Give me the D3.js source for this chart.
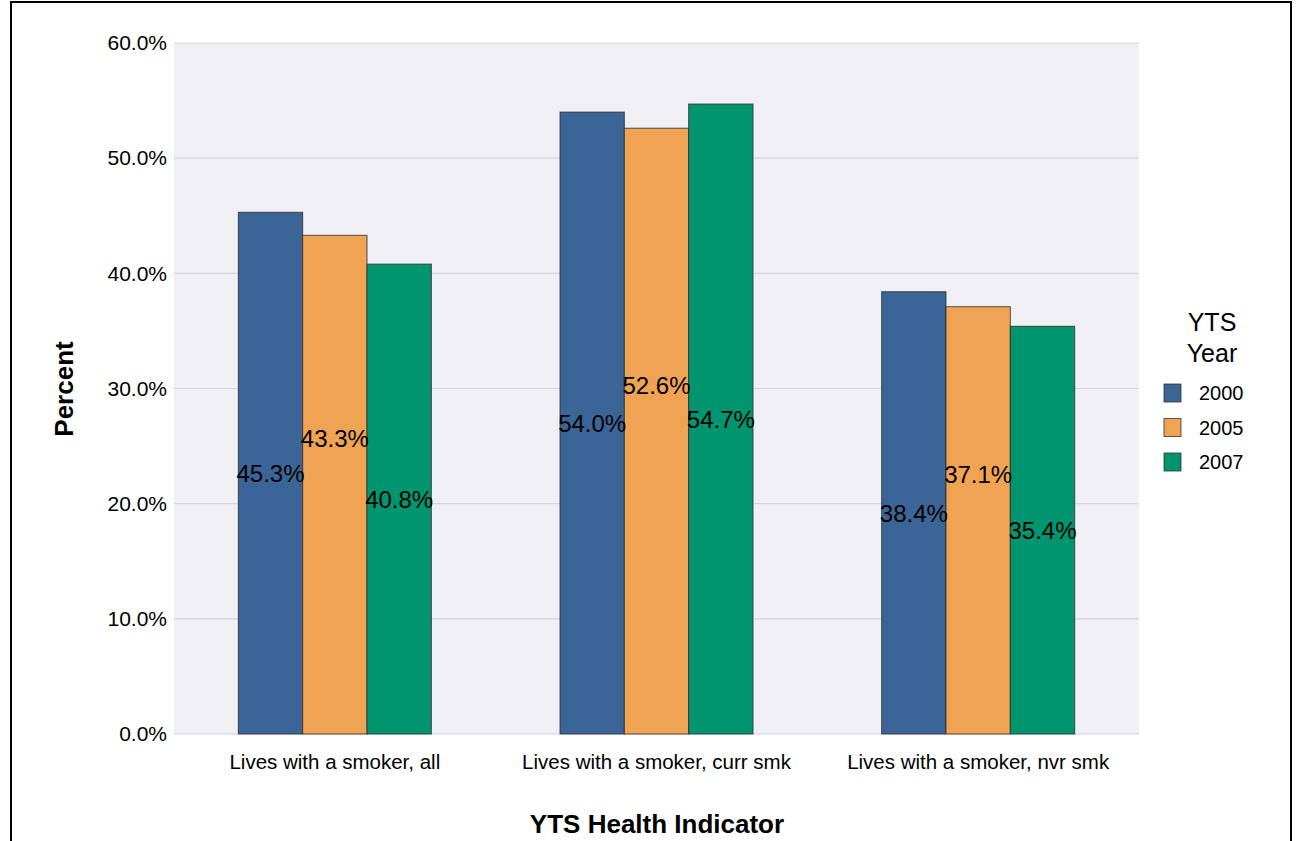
<!DOCTYPE html>
<html>
<head>
<meta charset="utf-8">
<script src="https://cdn.jsdelivr.net/npm/d3@7"></script>
<style>
  html, body { margin: 0; padding: 0; background: #fff; }
  svg { display: block; font-family: "Liberation Sans", Arial, "DejaVu Sans", sans-serif; }
</style>
</head>
<body>
<svg id="chart" width="1298" height="841"></svg>
<script>
const categories = ["Lives with a smoker, all", "Lives with a smoker, curr smk", "Lives with a smoker, nvr smk"];
const years = ["2000", "2005", "2007"];
const values2000 = [45.3, 54.0, 38.4];
const values2005 = [43.3, 52.6, 37.1];
const values2007 = [40.8, 54.7, 35.4];
const yTicks = [0, 10, 20, 30, 40, 50, 60];
const colors = ["#3a6596", "#f0a453", "#00956f"];

const seriesValues = [values2000, values2005, values2007];
const labelShift = [0, -46, 0];

const svg = d3.select("#chart");
const plot = { left: 174, right: 1139, top: 43, bottom: 734 };

// outer frame
svg.append("rect")
  .attr("x", 11).attr("y", 2).attr("width", 1280).attr("height", 900)
  .attr("fill", "none").attr("stroke", "#000").attr("stroke-width", 2);

const x0 = d3.scaleBand().domain(categories).range([plot.left, plot.right])
  .paddingInner(0.4).paddingOuter(0.2);
const x1 = d3.scaleBand().domain(years).range([0, x0.bandwidth()]).padding(0);
const y = d3.scaleLinear().domain([0, 60]).range([plot.bottom, plot.top]);
const color = d3.scaleOrdinal().domain(years).range(colors);

// plot background
svg.append("rect")
  .attr("x", plot.left).attr("y", plot.top)
  .attr("width", plot.right - plot.left).attr("height", plot.bottom - plot.top)
  .attr("fill", "#efeff4");

// gridlines
svg.append("g").selectAll("line").data(yTicks).join("line")
  .attr("x1", plot.left).attr("x2", plot.right)
  .attr("y1", d => y(d)).attr("y2", d => y(d))
  .attr("stroke", "#d3d3e1").attr("stroke-width", 1.2);

// y axis
const yAxis = d3.axisLeft(y).tickValues(yTicks).tickSize(0).tickPadding(7)
  .tickFormat(d => d.toFixed(1) + "%");
const gy = svg.append("g").attr("transform", `translate(${plot.left},0)`).call(yAxis);
gy.select(".domain").remove();
gy.selectAll("text").attr("font-size", 21).attr("fill", "#000").attr("font-family", "Liberation Sans, Arial, sans-serif");

// x axis
const xAxis = d3.axisBottom(x0).tickSize(0).tickPadding(0);
const gx = svg.append("g").attr("transform", `translate(0,${plot.bottom})`).call(xAxis);
gx.select(".domain").remove();
gx.selectAll("text").attr("font-size", 20.5).attr("fill", "#000")
  .attr("font-family", "Liberation Sans, Arial, sans-serif")
  .attr("dy", null).attr("y", 35);

// bars
const data = [];
categories.forEach((c, ci) => {
  years.forEach((yr, si) => {
    data.push({ cat: c, year: yr, si: si, value: seriesValues[si][ci] });
  });
});

const bars = svg.append("g");
bars.selectAll("rect").data(data).join("rect")
  .attr("x", d => x0(d.cat) + x1(d.year))
  .attr("y", d => y(d.value))
  .attr("width", x1.bandwidth())
  .attr("height", d => y(0) - y(d.value))
  .attr("fill", d => color(d.year))
  .attr("stroke", "#2b2b2b").attr("stroke-opacity", 0.8).attr("stroke-width", 1);

// data labels
svg.append("g").selectAll("text").data(data).join("text")
  .attr("x", d => x0(d.cat) + x1(d.year) + x1.bandwidth() / 2)
  .attr("y", d => (y(d.value) + y(0)) / 2 + labelShift[d.si])
  .attr("dy", "0.36em")
  .attr("text-anchor", "middle")
  .attr("font-size", 24)
  .attr("fill", "#000")
  .text(d => d.value.toFixed(1) + "%");

// axis titles
svg.append("text")
  .attr("transform", `translate(73,389) rotate(-90)`)
  .attr("text-anchor", "middle")
  .attr("font-size", 26).attr("font-weight", "bold")
  .text("Percent");

svg.append("text")
  .attr("x", 657).attr("y", 833)
  .attr("text-anchor", "middle")
  .attr("font-size", 26).attr("font-weight", "bold")
  .text("YTS Health Indicator");

// legend
const legend = svg.append("g");
legend.append("text").attr("x", 1212).attr("y", 331).attr("text-anchor", "middle")
  .attr("font-size", 25).text("YTS");
legend.append("text").attr("x", 1212).attr("y", 362).attr("text-anchor", "middle")
  .attr("font-size", 25).text("Year");

const items = legend.selectAll("g.item").data(years).join("g")
  .attr("class", "item")
  .attr("transform", (d, i) => `translate(1164,${384 + i * 34.5})`);
items.append("rect").attr("width", 17).attr("height", 18)
  .attr("fill", d => color(d)).attr("stroke", "#333").attr("stroke-opacity", 0.8);
items.append("text").attr("x", 35).attr("y", 9).attr("dy", "0.36em")
  .attr("font-size", 20).text(d => d);
</script>
</body>
</html>
